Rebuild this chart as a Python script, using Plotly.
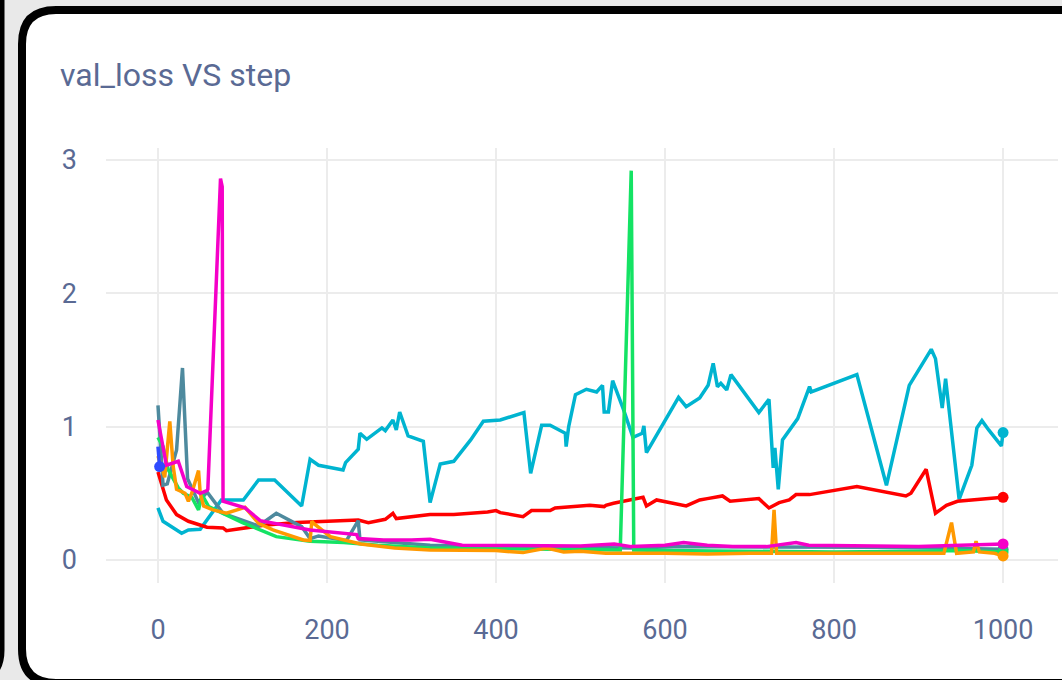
import plotly.graph_objects as go

# ---- data ----
blue_steps = [0, 2]
blue_vals = [0.85, 0.70]

cyan_steps = [0, 6, 28, 36, 50, 58, 75, 101, 119, 138, 170, 180, 190, 219, 222, 237, 239, 247,
              265, 269, 278, 282, 286, 296, 314, 322, 334, 350, 370, 385, 405, 433, 441, 454,
              464, 482, 483, 486, 494, 507, 519, 526, 528, 533, 538, 551, 562, 573, 575, 578,
              598, 616, 625, 641, 651, 657, 662, 666, 673, 678, 711, 723, 728, 730, 734, 739,
              757, 771, 773, 827, 862, 889, 915, 920, 928, 932, 948, 963, 969, 975, 983, 998, 1000]
cyan_vals = [0.39, 0.29, 0.20, 0.225, 0.23, 0.30, 0.45, 0.45, 0.60, 0.60, 0.405, 0.755, 0.71, 0.675,
             0.73, 0.83, 0.95, 0.905, 0.99, 0.97, 1.05, 0.975, 1.11, 0.93, 0.89, 0.43, 0.72, 0.74,
             0.90, 1.04, 1.05, 1.105, 0.65, 1.01, 1.01, 0.95, 0.85, 1.0, 1.24, 1.28, 1.26, 1.31,
             1.11, 1.11, 1.345, 1.125, 0.92, 0.95, 1.005, 0.805, 1.025, 1.22, 1.15, 1.215, 1.31,
             1.475, 1.30, 1.325, 1.275, 1.39, 1.105, 1.205, 0.69, 0.84, 0.53, 0.90, 1.06, 1.30,
             1.26, 1.39, 0.56, 1.31, 1.58, 1.51, 1.14, 1.36, 0.455, 0.71, 0.99, 1.045, 0.975,
             0.855, 0.955]

red_steps = [0, 10, 22, 36, 58, 77, 81, 125, 164, 223, 237, 249, 269, 278, 282, 322, 350, 390,
             400, 405, 432, 442, 464, 470, 511, 528, 530, 539, 574, 578, 590, 625, 641, 650,
             668, 677, 711, 723, 735, 747, 755, 771, 827, 885, 891, 909, 920, 933, 946, 1000]
red_vals = [0.66, 0.45, 0.34, 0.29, 0.245, 0.24, 0.22, 0.26, 0.28, 0.30, 0.30, 0.28, 0.305, 0.35,
            0.31, 0.34, 0.34, 0.36, 0.37, 0.355, 0.325, 0.37, 0.37, 0.39, 0.41, 0.40, 0.41, 0.425,
            0.47, 0.405, 0.45, 0.405, 0.45, 0.46, 0.48, 0.44, 0.46, 0.39, 0.43, 0.45, 0.49, 0.49,
            0.55, 0.48, 0.50, 0.68, 0.35, 0.41, 0.44, 0.47]

gray_steps = [0, 6, 11, 22, 29, 35, 48, 58, 77, 119, 140, 170, 180, 190, 223, 237, 239, 322,
              400, 500, 560, 620, 680, 760, 850, 920, 1000]
gray_vals = [1.16, 0.56, 0.57, 0.825, 1.44, 0.61, 0.43, 0.51, 0.35, 0.255, 0.35, 0.25, 0.16, 0.18,
             0.145, 0.295, 0.15, 0.11, 0.10, 0.095, 0.09, 0.10, 0.10, 0.10, 0.095, 0.09, 0.08]

green_steps = [0, 6, 12, 24, 30, 40, 48, 52, 60, 77, 100, 140, 180, 220, 260, 322, 400, 450,
               500, 547, 560, 563, 600, 700, 800, 900, 950, 1000]
green_vals = [0.92, 0.85, 0.68, 0.54, 0.50, 0.47, 0.375, 0.49, 0.40, 0.35, 0.28, 0.175, 0.14, 0.13,
              0.11, 0.09, 0.085, 0.08, 0.075, 0.075, 2.92, 0.075, 0.07, 0.065, 0.06, 0.065, 0.07, 0.06]

orange_steps = [0, 8, 14, 18, 22, 32, 36, 40, 48, 50, 54, 65, 81, 103, 119, 136, 172, 180, 182,
                185, 204, 240, 280, 322, 400, 432, 460, 480, 500, 530, 600, 650, 700, 726, 729,
                732, 800, 900, 930, 939, 945, 965, 968, 972, 990, 1000]
orange_vals = [0.78, 0.62, 1.04, 0.70, 0.53, 0.50, 0.44, 0.50, 0.67, 0.50, 0.405, 0.375, 0.35,
               0.395, 0.275, 0.225, 0.15, 0.145, 0.29, 0.27, 0.175, 0.12, 0.09, 0.075, 0.07,
               0.055, 0.09, 0.06, 0.065, 0.05, 0.05, 0.045, 0.05, 0.05, 0.375, 0.05, 0.05,
               0.045, 0.05, 0.28, 0.05, 0.06, 0.14, 0.06, 0.05, 0.03]

pink_steps = [0, 10, 24, 34, 50, 58, 59, 74, 76, 77, 103, 121, 180, 235, 237, 267, 300, 322,
              360, 400, 450, 500, 540, 560, 600, 622, 650, 680, 720, 755, 770, 850, 900, 950, 1000]
pink_vals = [1.05, 0.71, 0.74, 0.55, 0.50, 0.52, 0.53, 2.86, 2.80, 0.44, 0.39, 0.295, 0.225, 0.19,
             0.16, 0.15, 0.15, 0.155, 0.11, 0.11, 0.105, 0.105, 0.12, 0.10, 0.11, 0.13, 0.11,
             0.10, 0.10, 0.13, 0.11, 0.10, 0.10, 0.11, 0.12]

x_ticks = [0, 200, 400, 600, 800, 1000]
y_ticks = [0, 1, 2, 3]

series = [
    ('cyan', cyan_steps, cyan_vals, '#00b4d0'),
    ('red', red_steps, red_vals, '#ff0000'),
    ('gray', gray_steps, gray_vals, '#4e8a9e'),
    ('green', green_steps, green_vals, '#14e364'),
    ('orange', orange_steps, orange_vals, '#ff9900'),
    ('pink', pink_steps, pink_vals, '#f500c8'),
    ('blue', blue_steps, blue_vals, '#2f4bff'),
]

# ---- geometry (pixels) ----
W, H = 1062, 680
PL, PR, PT, PB = 106, 1058, 148, 583      # plot area box on screen
TEXT = '#5a6a94'
FONT = 'Roboto'


def rel(px, py):
    # screen pixel -> pixel offset from plot bottom-left (for pixel-sized shapes)
    return px - PL, PB - py


def rounded_path(x0, y0, x1, y1, r):
    ax, ay = rel(x0, y0)
    bx, by = rel(x1, y1)
    return (f'M {ax + r},{ay} L {bx - r},{ay} Q {bx},{ay} {bx},{ay - r} '
            f'L {bx},{by + r} Q {bx},{by} {bx - r},{by} L {ax + r},{by} '
            f'Q {ax},{by} {ax},{by + r} L {ax},{ay - r} Q {ax},{ay} {ax + r},{ay} Z')


def pixel_shape(path, **kw):
    return dict(type='path', path=path, xref='paper', yref='paper',
                xsizemode='pixel', ysizemode='pixel', xanchor=0, yanchor=0,
                layer='below', **kw)


fig = go.Figure()
for name, xs, ys, col in series:
    fig.add_trace(go.Scatter(x=xs, y=ys, name=name, mode='lines',
                             line=dict(color=col, width=3.5), showlegend=False))
# end-of-run dots
for name, xs, ys, col in series:
    fig.add_trace(go.Scatter(x=xs[-1:], y=ys[-1:], mode='markers', name=name,
                             marker=dict(size=11, color=col, opacity=1, line=dict(width=0)),
                             showlegend=False))

card = rounded_path(22, 10, 1110, 683, 34)
lx, ly_top = rel(2, -20)
_, ly_bot = rel(2, 650)
neighbour = f'M {lx},{ly_top} L {lx},{ly_bot} Q {lx},{ly_bot - 30} {lx - 30},{ly_bot - 33}'

fig.update_layout(
    width=W, height=H,
    margin=dict(l=PL, r=W - PR, t=PT, b=H - PB, autoexpand=False),
    paper_bgcolor='#e9e9e9', plot_bgcolor='rgba(0,0,0,0)',
    font=dict(family=FONT, size=27, color=TEXT),
    title=dict(text='val_loss VS step', x=60 / W, xanchor='left', xref='container',
               y=1 - 75 / H, yanchor='middle', yref='container',
               font=dict(family=FONT, size=32, color=TEXT)),
    shapes=[
        pixel_shape(card, fillcolor='white', line=dict(color='black', width=8)),
        pixel_shape(neighbour, line=dict(color='black', width=5)),
    ],
    hovermode='closest',
)
fig.update_xaxes(range=[-61.5, 1065], tickvals=x_ticks, showgrid=True, gridcolor='#ececec',
                 gridwidth=2, zeroline=False, showline=False, ticks='', ticklabelstandoff=28)
fig.update_yaxes(range=[-0.173, 3.09], tickvals=y_ticks, showgrid=True, gridcolor='#ececec',
                 gridwidth=2, zeroline=False, showline=False, ticks='', ticklabelstandoff=28)

fig.write_html('out.html', config={'displayModeBar': False},
               post_script="document.body.style.margin='0';")
